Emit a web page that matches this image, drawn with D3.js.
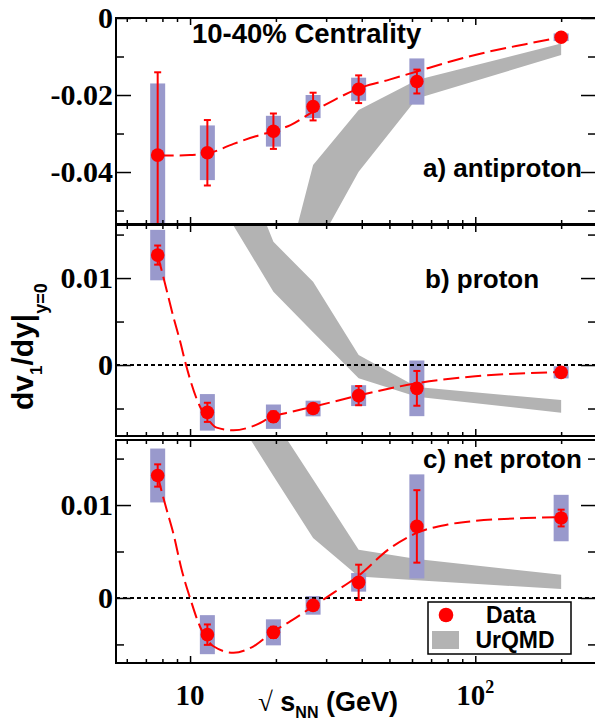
<!DOCTYPE html>
<html>
<head>
<meta charset="utf-8">
<script src="https://cdn.jsdelivr.net/npm/d3@7"></script>
<style>
  body { margin: 0; background: #fff; }
  svg { display: block; }
</style>
</head>
<body>
<svg id="chart" width="595" height="721"></svg>
<script>
// beam energies, GeV
var energies = [7.7, 11.5, 19.6, 27, 39, 62.4, 200];

// a) antiproton : value, stat. error, syst. error
var apVal  = [-0.0356, -0.0350, -0.0294, -0.0230, -0.0185, -0.0165, -0.0050];
var apStat = [0.0215, 0.0085, 0.0046, 0.0036, 0.0036, 0.0031, 0.0003];
var apSys  = [0.0186, 0.0071, 0.0040, 0.0030, 0.0030, 0.0060, 0.0010];

// b) proton
var pVal  = [0.01264, -0.00544, -0.00594, -0.0050, -0.00352, -0.00268, -0.00084];
var pStat = [0.0011, 0.0011, 0.0006, 0.0004, 0.0011, 0.0020, 0.0003];
var pSys  = [0.0029, 0.0021, 0.0014, 0.0009, 0.0012, 0.0032, 0.0007];

// c) net proton
var npVal  = [0.01318, -0.00395, -0.0037, -0.0008, 0.00168, 0.0077, 0.0086];
var npStat = [0.0012, 0.0011, 0.0006, 0.0004, 0.0019, 0.0039, 0.0009];
var npSys  = [0.0029, 0.0021, 0.0014, 0.0010, 0.0010, 0.0056, 0.0025];

// dashed fit curves
var apFitE = [7.7, 9, 10, 11.5, 14.2, 17, 19.6, 22.5, 27, 32, 39, 50, 62.4, 80, 105, 150, 200];
var apFitV = [-0.0357, -0.0357, -0.0356, -0.0352, -0.0327, -0.0307, -0.0294, -0.0278, -0.0243, -0.0213, -0.0183, -0.0160, -0.0139, -0.0115, -0.0092, -0.0068, -0.0050];

var pFitE = [7.7, 8.05, 8.73, 9.2, 9.68, 10.84, 11.6, 12.4, 14.2, 16.7, 19.6, 22.5, 27, 39, 62.4, 100, 200];
var pFitV = [0.0126, 0.0102, 0.0056, 0.0029, 0, -0.0048, -0.0063, -0.0072, -0.0075, -0.0070, -0.0059, -0.0054, -0.0048, -0.0035, -0.0021, -0.0013, -0.0008];

var npFitE = [7.7, 7.84, 8.28, 8.73, 9.35, 10, 10.84, 12.08, 14.2, 16.7, 19.6, 22.5, 27, 32, 39, 50, 62.4, 80, 100, 150, 200];
var npFitV = [0.0132, 0.0122, 0.0095, 0.0070, 0.0030, 0, -0.0031, -0.0052, -0.0059, -0.0052, -0.0036, -0.0025, -0.0009, 0.0006, 0.0024, 0.0053, 0.0070, 0.0079, 0.0083, 0.0086, 0.0087];

// UrQMD bands (upper / lower edge)
var urqmdE = [11.5, 19.6, 27, 39, 62.4, 200];
var apUHi = [-0.16, -0.078, -0.0382, -0.0239, -0.0161, -0.0066];
var apULo = [-0.18, -0.095, -0.0613, -0.0399, -0.0209, -0.0096];
var pUHi  = [0.033, 0.01417, 0.00957, 0.00115, -0.00253, -0.00402];
var pULo  = [0.021, 0.00843, 0.00377, -0.00153, -0.00364, -0.00548];
var npUHi = [0.030, 0.0193, 0.01276, 0.00519, 0.0042, 0.0025];
var npULo = [0.0244, 0.01313, 0.00645, 0.00232, 0.0019, 0.00097];

var xMajor = [10, 100];
var xMinor = [6, 7, 8, 9, 20, 30, 40, 50, 60, 70, 80, 90, 200];

var SANS = "'Liberation Sans', Arial, Helvetica, sans-serif";
var SERIF = "'Liberation Serif', 'Times New Roman', serif";
var RED = "#ff0000";

var svg = d3.select("#chart");
var left = 116, right = 596;

var x = d3.scaleLog().domain([5.5, 265]).range([left, right]);

var panels = [
	{id: "a", top: 18, bottom: 224, ymin: -0.0535, ymax: 0,
	 major: [0, -0.02, -0.04], minor: [-0.01, -0.03, -0.05],
	 val: apVal, stat: apStat, sys: apSys, fitE: apFitE, fitV: apFitV,
	 hi: apUHi, lo: apULo, label: "a) antiproton", lx: 423, ly: 177, zero: false},
	{id: "b", top: 225, bottom: 436, ymin: -0.00816, ymax: 0.0161,
	 major: [0.01, 0], minor: [0.015, 0.005, -0.005],
	 val: pVal, stat: pStat, sys: pSys, fitE: pFitE, fitV: pFitV,
	 hi: pUHi, lo: pULo, label: "b) proton", lx: 425, ly: 288, zero: true},
	{id: "c", top: 440, bottom: 663, ymin: -0.007, ymax: 0.0170,
	 major: [0.01, 0], minor: [0.015, 0.005, -0.005],
	 val: npVal, stat: npStat, sys: npSys, fitE: npFitE, fitV: npFitV,
	 hi: npUHi, lo: npULo, label: "c) net proton", lx: 423, ly: 468, zero: true}
];

function fmt(d){ return d === 0 ? "0" : String(d); }

panels.forEach(function(p){
	var y = d3.scaleLinear().domain([p.ymin, p.ymax]).range([p.bottom, p.top]);

	svg.append("clipPath").attr("id", "clip-" + p.id)
		.append("rect").attr("x", left).attr("y", p.top)
		.attr("width", right - left).attr("height", p.bottom - p.top);

	var g = svg.append("g").attr("clip-path", "url(#clip-" + p.id + ")");

	// UrQMD band
	var band = urqmdE.map(function(e, i){ return {e: e, hi: p.hi[i], lo: p.lo[i]}; });
	g.append("path").datum(band)
		.attr("fill", "#b3b3b3")
		.attr("d", d3.area()
			.x(function(d){ return x(d.e); })
			.y0(function(d){ return y(d.lo); })
			.y1(function(d){ return y(d.hi); }));

	var pts = energies.map(function(e, i){
		return {e: e, v: p.val[i], st: p.stat[i], sy: p.sys[i]};
	});

	// systematic boxes
	g.selectAll("rect.sys").data(pts).enter().append("rect").attr("class", "sys")
		.attr("x", function(d){ return x(d.e) - 7.5; })
		.attr("width", 15)
		.attr("y", function(d){ return y(d.v + d.sy); })
		.attr("height", function(d){ return y(d.v - d.sy) - y(d.v + d.sy); })
		.attr("fill", "#9999cc");

	if (p.zero) {
		g.append("line")
			.attr("x1", left).attr("x2", right)
			.attr("y1", y(0)).attr("y2", y(0))
			.attr("stroke", "#000").attr("stroke-width", 2)
			.attr("stroke-dasharray", "4,3");
	}

	// fit curve
	var fit = p.fitE.map(function(e, i){ return [e, p.fitV[i]]; });
	g.append("path").datum(fit)
		.attr("fill", "none").attr("stroke", RED).attr("stroke-width", 2)
		.attr("stroke-dasharray", "16,6")
		.attr("d", d3.line()
			.x(function(d){ return x(d[0]); })
			.y(function(d){ return y(d[1]); })
			.curve(d3.curveMonotoneX));

	// stat error bars
	var eb = g.selectAll("g.err").data(pts).enter().append("g").attr("class", "err")
		.attr("stroke", RED).attr("stroke-width", 2);
	eb.append("line")
		.attr("x1", function(d){ return x(d.e); }).attr("x2", function(d){ return x(d.e); })
		.attr("y1", function(d){ return y(d.v + d.st); })
		.attr("y2", function(d){ return y(d.v - d.st); });
	eb.append("line")
		.attr("x1", function(d){ return x(d.e) - 3.5; }).attr("x2", function(d){ return x(d.e) + 3.5; })
		.attr("y1", function(d){ return y(d.v + d.st); }).attr("y2", function(d){ return y(d.v + d.st); });
	eb.append("line")
		.attr("x1", function(d){ return x(d.e) - 3.5; }).attr("x2", function(d){ return x(d.e) + 3.5; })
		.attr("y1", function(d){ return y(d.v - d.st); }).attr("y2", function(d){ return y(d.v - d.st); });

	g.selectAll("circle.pt").data(pts).enter().append("circle").attr("class", "pt")
		.attr("cx", function(d){ return x(d.e); })
		.attr("cy", function(d){ return y(d.v); })
		.attr("r", 6.8).attr("fill", RED);

	// axes, ticks pointing inward
	function axisStyle(sel){
		sel.select(".domain").remove();
		sel.selectAll("line").attr("stroke", "#000").attr("stroke-width", 1.5);
		sel.selectAll("text").attr("font-family", SERIF).attr("font-weight", "bold")
			.attr("font-size", 30).attr("fill", "#000");
	}
	svg.append("g").attr("transform", "translate(" + left + ",0)")
		.call(d3.axisLeft(y).tickValues(p.major).tickSize(-15).tickPadding(3).tickFormat(fmt))
		.call(axisStyle);
	svg.append("g").attr("transform", "translate(" + left + ",0)")
		.call(d3.axisLeft(y).tickValues(p.minor).tickSize(-8).tickFormat(""))
		.call(axisStyle);
	svg.append("g").attr("transform", "translate(" + right + ",0)")
		.call(d3.axisRight(y).tickValues(p.major).tickSize(-15).tickFormat(""))
		.call(axisStyle);
	svg.append("g").attr("transform", "translate(" + right + ",0)")
		.call(d3.axisRight(y).tickValues(p.minor).tickSize(-8).tickFormat(""))
		.call(axisStyle);
	svg.append("g").attr("transform", "translate(0," + p.bottom + ")")
		.call(d3.axisBottom(x).tickValues(xMajor).tickSize(-7).tickFormat(""))
		.call(axisStyle);
	svg.append("g").attr("transform", "translate(0," + p.bottom + ")")
		.call(d3.axisBottom(x).tickValues(xMinor).tickSize(-4).tickFormat(""))
		.call(axisStyle);
	svg.append("g").attr("transform", "translate(0," + p.top + ")")
		.call(d3.axisTop(x).tickValues(xMajor).tickSize(-7).tickFormat(""))
		.call(axisStyle);
	svg.append("g").attr("transform", "translate(0," + p.top + ")")
		.call(d3.axisTop(x).tickValues(xMinor).tickSize(-4).tickFormat(""))
		.call(axisStyle);

	svg.append("rect")
		.attr("x", left).attr("y", p.top)
		.attr("width", right - left).attr("height", p.bottom - p.top)
		.attr("fill", "none").attr("stroke", "#000").attr("stroke-width", 2);

	svg.append("text").attr("x", p.lx).attr("y", p.ly)
		.attr("font-family", SANS).attr("font-weight", "bold").attr("font-size", 26)
		.text(p.label);
});

// title
svg.append("text").attr("x", 192).attr("y", 43)
	.attr("font-family", SANS).attr("font-weight", "bold").attr("font-size", 27.5)
	.text("10-40% Centrality");

// x tick labels under the last panel
var xl = svg.append("g").attr("font-family", SERIF).attr("font-weight", "bold")
	.attr("font-size", 29).attr("text-anchor", "middle");
xl.append("text").attr("x", x(10)).attr("y", 705).text("10");
var t100 = xl.append("text").attr("x", x(100)).attr("y", 705);
t100.append("tspan").text("10");
t100.append("tspan").attr("font-size", 18).attr("dy", -12).text("2");

// x title
var xt = svg.append("text").attr("x", 258).attr("y", 711)
	.attr("font-family", SANS).attr("font-weight", "bold").attr("font-size", 27);
xt.append("tspan").attr("font-family", SERIF).attr("font-weight", "normal").attr("font-size", 27).text("\u221A");
xt.append("tspan").text(" s");
xt.append("tspan").attr("font-size", 16).attr("dy", 7).text("NN");
xt.append("tspan").attr("dy", -7).text(" (GeV)");

// y title
var yt = svg.append("text").attr("transform", "translate(33,410) rotate(-90)")
	.attr("font-family", SANS).attr("font-weight", "bold").attr("font-size", 30);
yt.append("tspan").text("dv");
yt.append("tspan").attr("font-size", 17).attr("dy", 9).text("1");
yt.append("tspan").attr("dy", -9).text("/dy|");
yt.append("tspan").attr("font-size", 18).attr("dy", 14).text("y=0");

// legend
var lg = svg.append("g");
lg.append("rect").attr("x", 428).attr("y", 602).attr("width", 143).attr("height", 52)
	.attr("fill", "#fff").attr("stroke", "#000").attr("stroke-width", 1.5);
lg.append("circle").attr("cx", 446).attr("cy", 615).attr("r", 7.3).attr("fill", RED);
lg.append("rect").attr("x", 432).attr("y", 631).attr("width", 27).attr("height", 18).attr("fill", "#b3b3b3");
lg.append("text").attr("x", 511).attr("y", 623).attr("text-anchor", "middle")
	.attr("font-family", SANS).attr("font-weight", "bold").attr("font-size", 23).text("Data");
lg.append("text").attr("x", 515).attr("y", 648).attr("text-anchor", "middle")
	.attr("font-family", SANS).attr("font-weight", "bold").attr("font-size", 23).text("UrQMD");
</script>
</body>
</html>
